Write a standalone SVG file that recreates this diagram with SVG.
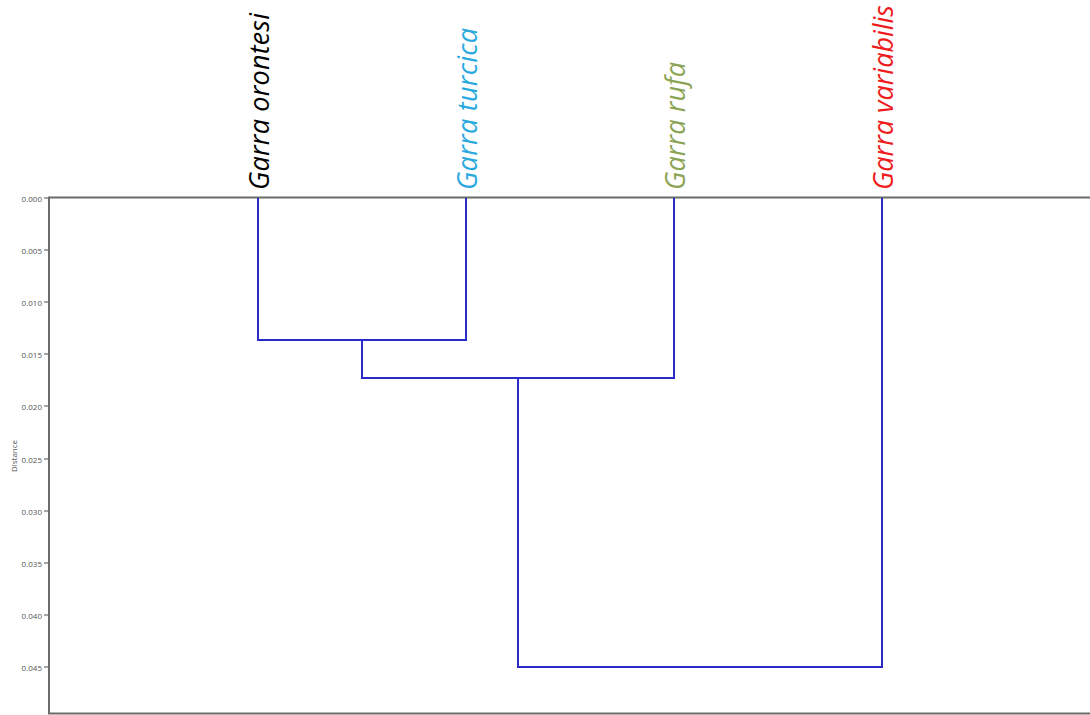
<svg xmlns="http://www.w3.org/2000/svg" width="1090" height="715" viewBox="0 0 1090 715">
<style>
.axis{stroke:#6b6b6b;stroke-width:2;fill:none}
.tick{stroke:#6b6b6b;stroke-width:1.2}
.tl{font-family:"Open Sans","DejaVu Sans",sans-serif;font-size:8px;fill:#555;text-anchor:end;dominant-baseline:central}
.br{stroke:#2a2acc;stroke-width:2;fill:none}
.lab{font-family:"Open Sans","Noto Sans",sans-serif;font-style:italic;font-size:27px;dominant-baseline:central}
</style>
<rect width="1090" height="715" fill="#fff"/>
<g id="axes">
<path class="axis" d="M1090,197.5 H49 V713.5 H1090"/>
<g class="tick">
<line x1="44" y1="198" x2="49" y2="198"/>
<line x1="44" y1="250" x2="49" y2="250"/>
<line x1="44" y1="302" x2="49" y2="302"/>
<line x1="44" y1="354" x2="49" y2="354"/>
<line x1="44" y1="406" x2="49" y2="406"/>
<line x1="44" y1="459" x2="49" y2="459"/>
<line x1="44" y1="511" x2="49" y2="511"/>
<line x1="44" y1="563" x2="49" y2="563"/>
<line x1="44" y1="615" x2="49" y2="615"/>
<line x1="44" y1="667" x2="49" y2="667"/>
</g>
<text class="tl" x="42" y="198">0.000</text>
<text class="tl" x="42" y="250">0.005</text>
<text class="tl" x="42" y="302">0.010</text>
<text class="tl" x="42" y="354">0.015</text>
<text class="tl" x="42" y="406">0.020</text>
<text class="tl" x="42" y="459">0.025</text>
<text class="tl" x="42" y="511">0.030</text>
<text class="tl" x="42" y="563">0.035</text>
<text class="tl" x="42" y="615">0.040</text>
<text class="tl" x="42" y="667">0.045</text>
<text class="tl" transform="translate(13,456) rotate(-90)" style="text-anchor:middle">Distance</text>
</g>
<g id="connectors">
<path class="br" d="M258,198 V340 H466 V198"/>
<path class="br" d="M362,340 V378 H674 V198"/>
<path class="br" d="M518,378 V667 H882 V198"/>
</g>
<g id="node-orontesi"><text class="lab" fill="#000" transform="translate(258,190) rotate(-90)" textLength="177">Garra orontesi</text></g>
<g id="node-turcica"><text class="lab" fill="#2aa9df" transform="translate(466,190) rotate(-90)" textLength="162">Garra turcica</text></g>
<g id="node-rufa"><text class="lab" fill="#8ca456" transform="translate(674,190) rotate(-90)" textLength="128">Garra rufa</text></g>
<g id="node-variabilis"><text class="lab" fill="#ee1c1c" transform="translate(882,190) rotate(-90)" textLength="185">Garra variabilis</text></g>
</svg>
